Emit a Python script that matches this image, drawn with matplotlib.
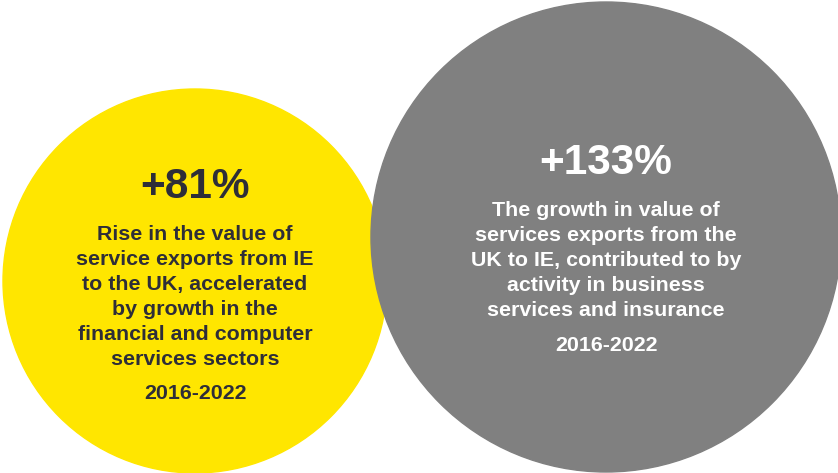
import matplotlib.pyplot as plt
from matplotlib.patches import Circle

# headline figures and captions for the two bubbles
headlines = ["+81%", "+133%"]
captions = [
    "Rise in the value of\nservice exports from IE\nto the UK, accelerated\nby growth in the\nfinancial and computer\nservices sectors",
    "The growth in value of\nservices exports from the\nUK to IE, contributed to by\nactivity in business\nservices and insurance",
]
periods = ["2016-2022", "2016-2022"]

# bubble geometry in pixel units, drawn left to right
centres = [(195, 281), (606, 237)]
radii = [192, 235]
fills = ["#FFE600", "#808080"]
inks = ["#2E2E38", "#FFFFFF"]
head_y = [187, 163]
caption_y = [297, 260]
period_y = [393, 345]

plt.rcParams['font.family'] = ['Liberation Sans', 'DejaVu Sans']

fig = plt.figure(figsize=(8.38, 4.73), dpi=100)
ax = fig.add_axes([0, 0, 1, 1])
ax.set_xlim(0, 838)
ax.set_ylim(473, 0)
ax.set_aspect('equal')
ax.axis('off')

for i in range(len(headlines)):
    ax.add_patch(Circle(centres[i], radii[i], color=fills[i], zorder=i + 1))
    x = centres[i][0]
    ax.text(x, head_y[i], headlines[i], ha='center', va='center', fontsize=30.5,
            fontweight='bold', color=inks[i], zorder=5)
    ax.text(x, caption_y[i], captions[i], ha='center', va='center', fontsize=15.4,
            fontweight='bold', color=inks[i], linespacing=1.4, zorder=5)
    ax.text(x, period_y[i], periods[i], ha='center', va='center', fontsize=15.4,
            fontweight='bold', color=inks[i], zorder=5)

fig.savefig('out.png', dpi=100)
